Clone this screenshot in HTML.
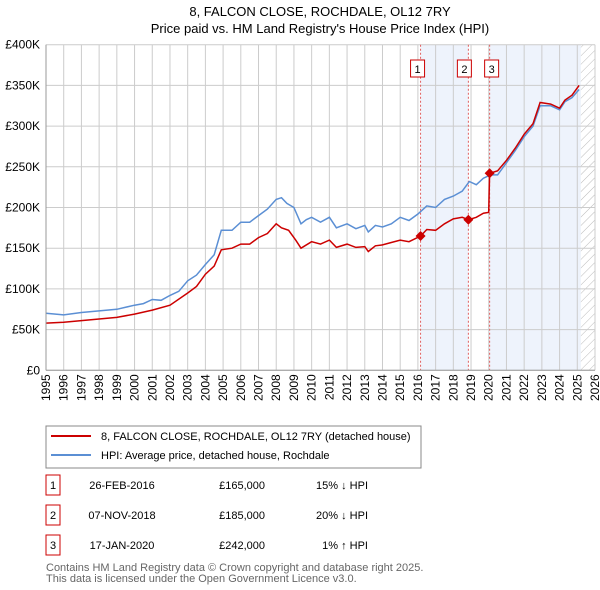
<!DOCTYPE html>
<html><head><meta charset="utf-8"><style>
body{margin:0;background:#fff;font-family:"Liberation Sans","DejaVu Sans",sans-serif;}
svg{display:block}
</style></head><body>
<svg width="600" height="590" xmlns="http://www.w3.org/2000/svg" id="chart" font-family="Liberation Sans, DejaVu Sans, sans-serif">
<text x="320" y="16" text-anchor="middle" font-size="13" fill="#000">8, FALCON CLOSE, ROCHDALE, OL12 7RY</text>
<text x="320" y="33" text-anchor="middle" font-size="13" fill="#000">Price paid vs. HM Land Registry's House Price Index (HPI)</text>
<defs><pattern id="hatch" width="6" height="6" patternUnits="userSpaceOnUse" patternTransform="rotate(45)"><line x1="0" y1="0" x2="0" y2="6" stroke="#bbb" stroke-width="1"/></pattern></defs>
<g id="bg"></g><g id="grid"></g><g id="marks"></g><g id="axes"></g>
<g>
<rect x="46" y="426" width="375" height="42" fill="#fff" stroke="#888"/>
<line x1="51" y1="436" x2="91" y2="436" stroke="#cc0000" stroke-width="2"/>
<text x="101" y="440" font-size="11">8, FALCON CLOSE, ROCHDALE, OL12 7RY (detached house)</text>
<line x1="51" y1="455" x2="91" y2="455" stroke="#5b8fd4" stroke-width="2"/>
<text x="101" y="459" font-size="11">HPI: Average price, detached house, Rochdale</text>
</g>
<g id="table" font-size="11"></g>
<text x="46" y="571" font-size="11" fill="#666">Contains HM Land Registry data © Crown copyright and database right 2025.</text>
<text x="46" y="582" font-size="11" fill="#666">This data is licensed under the Open Government Licence v3.0.</text>
</svg>
<script>
const hpiYears=[1995,1996,1997,1998,1999,2000,2000.5,2001,2001.5,2002,2002.5,2003,2003.5,2004,2004.5,2004.9,2005.5,2006,2006.5,2007,2007.5,2008,2008.3,2008.6,2009,2009.4,2009.7,2010,2010.5,2011,2011.4,2012,2012.5,2013,2013.2,2013.6,2014,2014.5,2015,2015.5,2016,2016.5,2017,2017.5,2018,2018.5,2018.9,2019.3,2019.7,2020.1,2020.5,2021,2021.5,2022,2022.5,2022.9,2023.5,2024,2024.3,2024.7,2025.1];
const hpiValues=[70,68,71,73,75,80,82,87,86,92,97,110,117,130,142,172,172,182,182,190,198,210,212,205,200,180,185,188,182,188,175,180,174,178,170,178,176,180,188,184,192,202,200,210,214,220,232,228,236,240,240,255,270,287,300,325,325,320,330,335,345];
const priceYears=[1995,1996,1997,1998,1999,2000,2001,2002,2003,2003.5,2004,2004.5,2004.9,2005.5,2006,2006.5,2007,2007.5,2008,2008.3,2008.7,2009.1,2009.4,2010,2010.5,2011,2011.4,2012,2012.5,2013,2013.2,2013.6,2014,2014.5,2015,2015.5,2016.15,2016.5,2017,2017.5,2018,2018.5,2018.85,2019.3,2019.7,2020.0,2020.05,2020.5,2021,2021.5,2022,2022.5,2022.9,2023.5,2024,2024.3,2024.7,2025.1];
const priceValues=[58,59,61,63,65,69,74,80,95,103,118,128,148,150,155,155,163,168,180,175,172,160,150,158,155,160,151,155,151,152,146,153,154,157,160,158,165,173,172,180,186,188,185,188,193,194,242,245,258,273,290,303,329,327,322,332,338,350];
const saleIds=["1","2","3"];
const saleYears=[2016.15,2018.85,2020.05];
const saleValues=[165,185,242];
const saleDates=["26-FEB-2016","07-NOV-2018","17-JAN-2020"];
const salePrices=["£165,000","£185,000","£242,000"];
const saleHpi=["15% ↓ HPI","20% ↓ HPI","1% ↑ HPI"];
const yTicks=[0,50,100,150,200,250,300,350,400];
const yTickLabels=["£0","£50K","£100K","£150K","£200K","£250K","£300K","£350K","£400K"];
const xTicks=[1995,1996,1997,1998,1999,2000,2001,2002,2003,2004,2005,2006,2007,2008,2009,2010,2011,2012,2013,2014,2015,2016,2017,2018,2019,2020,2021,2022,2023,2024,2025,2026];
const dataEnd=2025.2;

const L=46,R=595,T=44.7,B=370.3,X0=1995,X1=2026;
const x=v=>L+(v-X0)/(X1-X0)*(R-L);
const y=v=>B-v/400*(B-T);
const NS="http://www.w3.org/2000/svg";
function mk(parent,tag,attrs){const e=document.createElementNS(NS,tag);for(const k in attrs)e.setAttribute(k,attrs[k]);document.getElementById(parent).appendChild(e);return e;}

let e;
e=mk('bg','rect',{x:L,y:T,width:R-L,height:B-T,fill:'#fff'});


e=mk('bg','rect',{x:x(saleYears[0]),y:T,width:x(saleYears[1])-x(saleYears[0]),height:B-T,fill:'#eef3fc'});


e=mk('bg','rect',{x:x(saleYears[2]),y:T,width:x(dataEnd)-x(saleYears[2]),height:B-T,fill:'#eef3fc'});


e=mk('bg','rect',{x:x(dataEnd),y:T,width:R-x(dataEnd),height:B-T,fill:'url(#hatch)'});



xTicks.forEach(t=>{
  e=mk('grid','line',{x1:x(t),x2:x(t),y1:T,y2:B,stroke:'#cccccc','stroke-width':1});
  
  
  e=mk('axes','text',{x:0,y:0,transform:`translate(${x(t)+4},${B+4}) rotate(-90)`,'text-anchor':'end','font-size':12});
  e.textContent=t;
  
  
});
yTicks.forEach((t,i)=>{
  e=mk('grid','line',{x1:L,x2:R,y1:y(t),y2:y(t),stroke:'#cccccc','stroke-width':1});
  
  
  e=mk('axes','text',{x:L-6,y:y(t)+4,'text-anchor':'end','font-size':12});
  e.textContent=yTickLabels[i];
  
  
});
e=mk('axes','line',{x1:L,x2:L,y1:T,y2:B,stroke:'#999'});


e=mk('axes','line',{x1:L,x2:R,y1:B,y2:B,stroke:'#999'});



const boxOffsets=[-10,-11,-5];
saleYears.forEach((s,i)=>{
  e=mk('marks','line',{x1:x(s),x2:x(s),y1:T,y2:B,stroke:'#e06060','stroke-width':1,'stroke-dasharray':'2,2'});
  
  
  const rx=x(s)+boxOffsets[i];
  e=mk('marks','rect',{x:rx,y:60,width:14,height:17,fill:'#fff',stroke:'#cc0000'});
  
  
  e=mk('marks','text',{x:rx+7,y:73,'text-anchor':'middle','font-size':11});
  e.textContent=saleIds[i];
  
  
});

const path=(xs,vs)=>xs.map((t,i)=>(i?'L':'M')+x(t).toFixed(1)+','+y(vs[i]).toFixed(1)).join('');
e=mk('marks','path',{d:path(hpiYears,hpiValues),fill:'none',stroke:'#5b8fd4','stroke-width':1.5});


e=mk('marks','path',{d:path(priceYears,priceValues),fill:'none',stroke:'#cc0000','stroke-width':1.5});


saleYears.forEach((s,i)=>{
  const cx=x(s),cy=y(saleValues[i]);
  e=mk('marks','path',{d:`M${cx},${cy-5}L${cx+5},${cy}L${cx},${cy+5}L${cx-5},${cy}Z`,fill:'#cc0000'});
  
  
});

saleIds.forEach((id,i)=>{
  const ry=485+i*30;
  e=mk('table','rect',{x:46,y:ry-10,width:14,height:20,fill:'#fff',stroke:'#cc0000'});
  
  
  e=mk('table','text',{x:53,y:ry+4,'text-anchor':'middle'});e.textContent=id;
  
  
  e=mk('table','text',{x:122,y:ry+4,'text-anchor':'middle'});e.textContent=saleDates[i];
  
  
  e=mk('table','text',{x:265,y:ry+4,'text-anchor':'end'});e.textContent=salePrices[i];
  
  
  e=mk('table','text',{x:368,y:ry+4,'text-anchor':'end'});e.textContent=saleHpi[i];
  
  
});
</script>
</body></html>
